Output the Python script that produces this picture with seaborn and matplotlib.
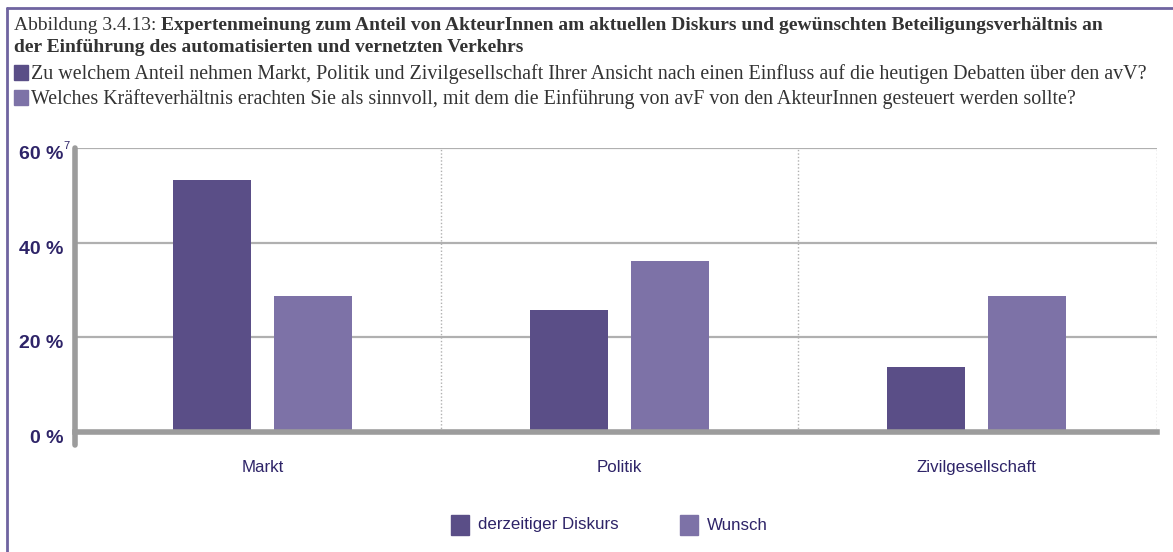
import matplotlib
matplotlib.use("Agg")
import matplotlib.pyplot as plt
import seaborn as sns
import pandas as pd
from matplotlib.lines import Line2D
from matplotlib.patches import Rectangle

categories = ["Markt", "Politik", "Zivilgesellschaft"]
series_names = ["derzeitiger Diskurs", "Wunsch"]
diskurs = [53.2, 25.8, 13.7]
wunsch = [28.7, 36.1, 28.7]
ytick_vals = [0, 20, 40, 60]
ytick_labels = ["0 %", "20 %", "40 %", "60 %"]

title_prefix = "Abbildung 3.4.13: "
title_bold_1 = "Expertenmeinung zum Anteil von AkteurInnen am aktuellen Diskurs und gewünschten Beteiligungsverhältnis an"
title_bold_2 = "der Einführung des automatisierten und vernetzten Verkehrs"
q1 = "Zu welchem Anteil nehmen Markt, Politik und Zivilgesellschaft Ihrer Ansicht nach einen Einfluss auf die heutigen Debatten über den avV?"
q2 = "Welches Kräfteverhältnis erachten Sie als sinnvoll, mit dem die Einführung von avF von den AkteurInnen gesteuert werden sollte?"

dark = "#5a4e87"
light = "#7d72a7"
txtcol = "#2e2468"
gridcol = "#b0b0b0"
axcol = "#9c9c9c"

sns.set_style("white")
plt.rcParams["font.family"] = ["Liberation Sans", "DejaVu Sans"]

df = pd.DataFrame({
    "cat": categories * 2,
    "series": [series_names[0]] * 3 + [series_names[1]] * 3,
    "val": diskurs + wunsch,
})

W, H = 1173, 552
fig = plt.figure(figsize=(W / 100, H / 100), dpi=100)
ax = fig.add_axes([75 / W, (H - 432) / H, (1157 - 75) / W, (432 - 148) / H])

sns.barplot(data=df, x="cat", y="val", hue="series", order=categories,
            hue_order=series_names, palette=[dark, light], width=0.566,
            gap=0.226, saturation=1, linewidth=0, ax=ax, legend=False, zorder=3)

ax.set_xlim(-0.526, 2.507)
ax.set_ylim(0, 60)
ax.set_xlabel("")
ax.set_ylabel("")

# gridlines
for v in ytick_vals[1:]:
    ax.axhline(v, color=gridcol, lw=1.6, zorder=0)
for xb in [0.5, 1.5, 2.507]:
    ax.axvline(xb, color=gridcol, lw=1, ls=(0, (1, 1.5)), zorder=0)

for s in ["top", "right"]:
    ax.spines[s].set_visible(False)
ax.spines["bottom"].set_color(axcol)
ax.spines["bottom"].set_linewidth(4)
ax.spines["bottom"].set_zorder(5)
ax.spines["left"].set_visible(False)
ax.add_line(Line2D([0, 0], [-0.045, 1.0], transform=ax.transAxes, color=axcol,
                   lw=4, clip_on=False, zorder=6))

ax.set_yticks(ytick_vals)
ax.set_yticklabels([])
for v, lab in zip(ytick_vals, ytick_labels):
    ax.text(-0.011, v - 1.4, lab, transform=ax.get_yaxis_transform(),
            ha="right", va="center", fontsize=14, fontweight="bold", color=txtcol)
ax.text(-0.011, 60 + 0.5, "7", transform=ax.get_yaxis_transform(),
        ha="left", va="center", fontsize=8, color=txtcol)
ax.tick_params(axis="y", length=0)

ax.set_xticks(range(len(categories)))
ax.set_xticklabels(categories, fontsize=12.2, color=txtcol)
ax.tick_params(axis="x", which="major", length=0, pad=20)
ax.set_xticks([0.5, 1.5, 2.507], minor=True)
ax.tick_params(axis="x", which="minor", length=9, width=1, color="#8a8a8a", direction="out")

# frame lines
fig.add_artist(Line2D([7 / W, 7 / W], [0, 1 - 8 / H], transform=fig.transFigure,
                      color="#6f64a0", lw=2))
fig.add_artist(Line2D([7 / W, 1], [1 - 8 / H, 1 - 8 / H], transform=fig.transFigure,
                      color="#6f64a0", lw=2))

serif = ["Liberation Serif", "DejaVu Serif"]
fs = 14.0
fsq = 14.4
t = fig.text(14 / W, 1 - 30 / H, title_prefix, fontsize=fs, family=serif, color="#333333",
             va="baseline")
fig.canvas.draw()
bb = t.get_window_extent()
fig.text(bb.x1 / W, 1 - 30 / H, title_bold_1, fontsize=fs, family=serif,
         fontweight="bold", color="#333333", va="baseline")
fig.text(14 / W, 1 - 52 / H, title_bold_2, fontsize=fs, family=serif,
         fontweight="bold", color="#333333", va="baseline")

for yy, col, q in [(79, dark, q1), (104, light, q2)]:
    fig.add_artist(Rectangle((14 / W, 1 - (yy + 1) / H), 14 / W, 15 / H, transform=fig.transFigure,
                             color=col))
    fig.text(31 / W, 1 - yy / H, q, fontsize=fsq, family=serif, color="#333333",
             va="baseline")

# bottom legend
for x0, col, lab in [(451, dark, series_names[0]), (680, light, series_names[1])]:
    fig.add_artist(Rectangle((x0 / W, 1 - 535 / H), 18 / W, 20 / H, transform=fig.transFigure,
                             color=col))
    fig.text((x0 + 27) / W, 1 - 525 / H, lab, fontsize=12.2, color=txtcol, va="center")

fig.savefig("out.png", dpi=100)
